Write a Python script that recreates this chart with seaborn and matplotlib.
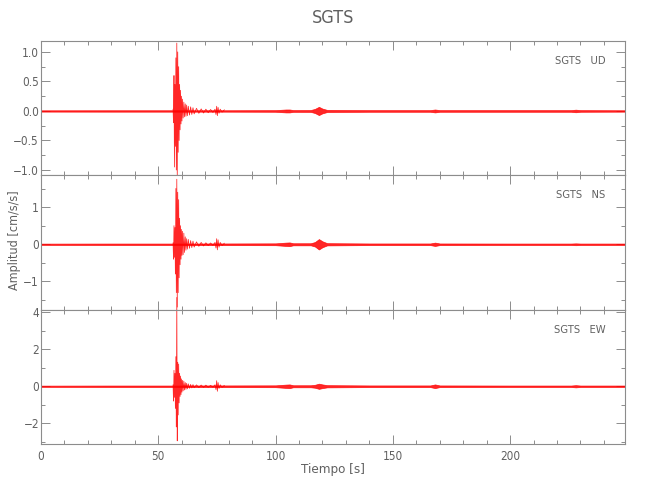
import matplotlib
matplotlib.use("Agg")
import matplotlib.pyplot as plt
import seaborn as sns
import numpy as np
from matplotlib.ticker import MultipleLocator

# ---------------- data ----------------
station = "SGTS"
components = ["UD", "NS", "EW"]

# times (s) of the read oscillation peaks during the main event
event_t = [56.3, 56.5, 56.7, 56.9, 57.1, 57.3, 57.5, 57.7, 57.9, 58.1,
           58.3, 58.5, 58.7, 58.9, 59.1, 59.3, 59.5, 59.7, 59.9, 60.1,
           60.3, 60.6, 60.9, 61.2, 61.5, 61.8, 62.1, 62.4, 62.8, 63.3,
           63.8, 64.3, 64.8, 65.3, 66.3, 67.3, 68.3, 69.3, 70.3, 71.3,
           72.3, 73.3, 74.2, 74.6, 74.9, 75.2, 75.5, 75.9, 76.4, 77.2, 78.2]

ud_peaks = [0.03, -0.2, 0.6, -0.95, 0.45, -0.6, 0.9, -1.0, 1.15, -1.2,
            1.0, -0.7, 0.75, -0.5, 0.45, -0.32, 0.35, -0.22, 0.25, -0.17,
            0.2, -0.12, 0.15, -0.1, 0.12, -0.09, 0.1, -0.08, 0.08, -0.07,
            0.07, -0.06, 0.055, -0.05, 0.045, -0.04, 0.035, -0.035, 0.03, -0.03,
            0.025, -0.025, 0.03, -0.06, 0.08, -0.08, 0.06, -0.04, 0.03, -0.02, 0.02]

ns_peaks = [0.04, -0.4, 0.5, -0.35, 0.45, -0.8, 1.5, -1.3, 1.75, -1.69,
            1.4, -1.3, 1.2, -0.9, 0.7, -0.55, 0.5, -0.4, 0.4, -0.3,
            0.35, -0.28, 0.3, -0.22, 0.2, -0.16, 0.15, -0.13, 0.13, -0.11,
            0.1, -0.09, 0.085, -0.075, 0.065, -0.055, 0.05, -0.045, 0.04, -0.035,
            0.035, -0.03, 0.05, -0.1, 0.15, -0.15, 0.12, -0.08, 0.05, -0.035, 0.03]

ew_peaks = [0.08, -0.8, 0.86, -0.6, 0.7, -1.2, 1.6, -2.2, 4.8, -2.95,
            1.3, -1.55, 1.2, -0.9, 0.7, -0.55, 0.55, -0.45, 0.4, -0.32,
            0.32, -0.25, 0.28, -0.2, 0.2, -0.17, 0.16, -0.14, 0.13, -0.11,
            0.1, -0.09, 0.09, -0.08, 0.075, -0.07, 0.065, -0.06, 0.06, -0.055,
            0.05, -0.05, 0.08, -0.18, 0.3, -0.27, 0.2, -0.12, 0.08, -0.06, 0.05]

# background noise half-width along the whole record
noise_t = [0, 30, 55.9, 78.1, 100, 104.5, 106, 107.5, 115, 116.8, 118.5,
           120, 122, 140, 166, 168, 170, 200, 226, 228, 230, 249]
ud_noise = [0.011, 0.012, 0.012, 0.012, 0.014, 0.025, 0.025, 0.015, 0.016, 0.035, 0.07,
            0.04, 0.018, 0.014, 0.014, 0.025, 0.014, 0.014, 0.014, 0.022, 0.014, 0.012]
ns_noise = [0.018, 0.02, 0.02, 0.022, 0.025, 0.045, 0.05, 0.028, 0.028, 0.06, 0.14,
            0.08, 0.03, 0.022, 0.022, 0.045, 0.022, 0.02, 0.02, 0.025, 0.02, 0.02]
ew_noise = [0.035, 0.04, 0.04, 0.045, 0.05, 0.09, 0.1, 0.055, 0.055, 0.08, 0.14,
            0.1, 0.06, 0.045, 0.045, 0.1, 0.045, 0.04, 0.04, 0.06, 0.04, 0.04]

x_max = 249
ylims = [(-1.09, 1.186), (-1.758, 1.855), (-3.12, 4.14)]
y_major = [0.5, 1, 2]
y_minor = [0.25, 0.5, 1]

title = "SGTS"
xlabel = "Tiempo [s]"
ylabel = "Amplitud [cm/s/s]"

# ---------------- styling ----------------
sns.set_style("ticks")
plt.rcParams["font.family"] = ["DejaVu Sans"]
plt.rcParams["font.stretch"] = "condensed"
plt.rcParams["font.weight"] = "light"

text_c = "#606060"
axis_c = "#8c8c8c"
trace_c = "#ff0000"

fig = plt.figure(figsize=(6.5, 5), dpi=100)
left, width = 41 / 650, 584 / 650
bottom0, h = 0.112, 0.2687

peaks_all = [ud_peaks, ns_peaks, ew_peaks]
noise_all = [ud_noise, ns_noise, ew_noise]

axes = []
for i, comp in enumerate(components):
    b = bottom0 + (2 - i) * h
    ax = fig.add_axes([left, b, width, h])
    axes.append(ax)
    nz = np.array(noise_all[i])
    ax.fill_between(noise_t, -nz, nz, color=trace_c, lw=0.5, alpha=0.85)
    sns.lineplot(x=event_t, y=peaks_all[i], ax=ax, color=trace_c, lw=0.55,
                 estimator=None, sort=False, alpha=0.85)
    for ln in ax.lines:
        ln.set_clip_on(False)
    ax.set_xlim(0, x_max)
    ax.set_ylim(*ylims[i])
    ax.xaxis.set_major_locator(MultipleLocator(50))
    ax.xaxis.set_minor_locator(MultipleLocator(10))
    ax.yaxis.set_major_locator(MultipleLocator(y_major[i]))
    ax.yaxis.set_minor_locator(MultipleLocator(y_minor[i]))
    ax.tick_params(which="both", direction="in", top=True, right=True,
                   color=axis_c, width=0.7, labelcolor=text_c, labelsize=8.5)
    ax.tick_params(which="major", length=6.5)
    ax.tick_params(which="minor", length=3)
    ax.tick_params(axis="y", pad=1.5)
    ax.tick_params(axis="x", pad=4)
    for sp in ax.spines.values():
        sp.set_visible(True)
        sp.set_color(axis_c)
        sp.set_linewidth(0.8)
    if i < 2:
        ax.set_xticklabels([])
    ax.set_xlabel("")
    ax.set_ylabel("")
    ax.text(0.966, 0.85, f"{station}   {comp}", transform=ax.transAxes,
            ha="right", va="center", color=text_c, fontsize=8)

fig.text(333 / 650, 1 - 18 / 500, title, ha="center", va="center",
         color=text_c, fontsize=13)
fig.text(333 / 650, 1 - 470 / 500, xlabel, ha="center", va="center",
         color=text_c, fontsize=9.5)
fig.text(15 / 650, 1 - 240 / 500, ylabel, ha="center", va="center",
         rotation=90, color=text_c, fontsize=9)

fig.savefig("out.png", dpi=100)
